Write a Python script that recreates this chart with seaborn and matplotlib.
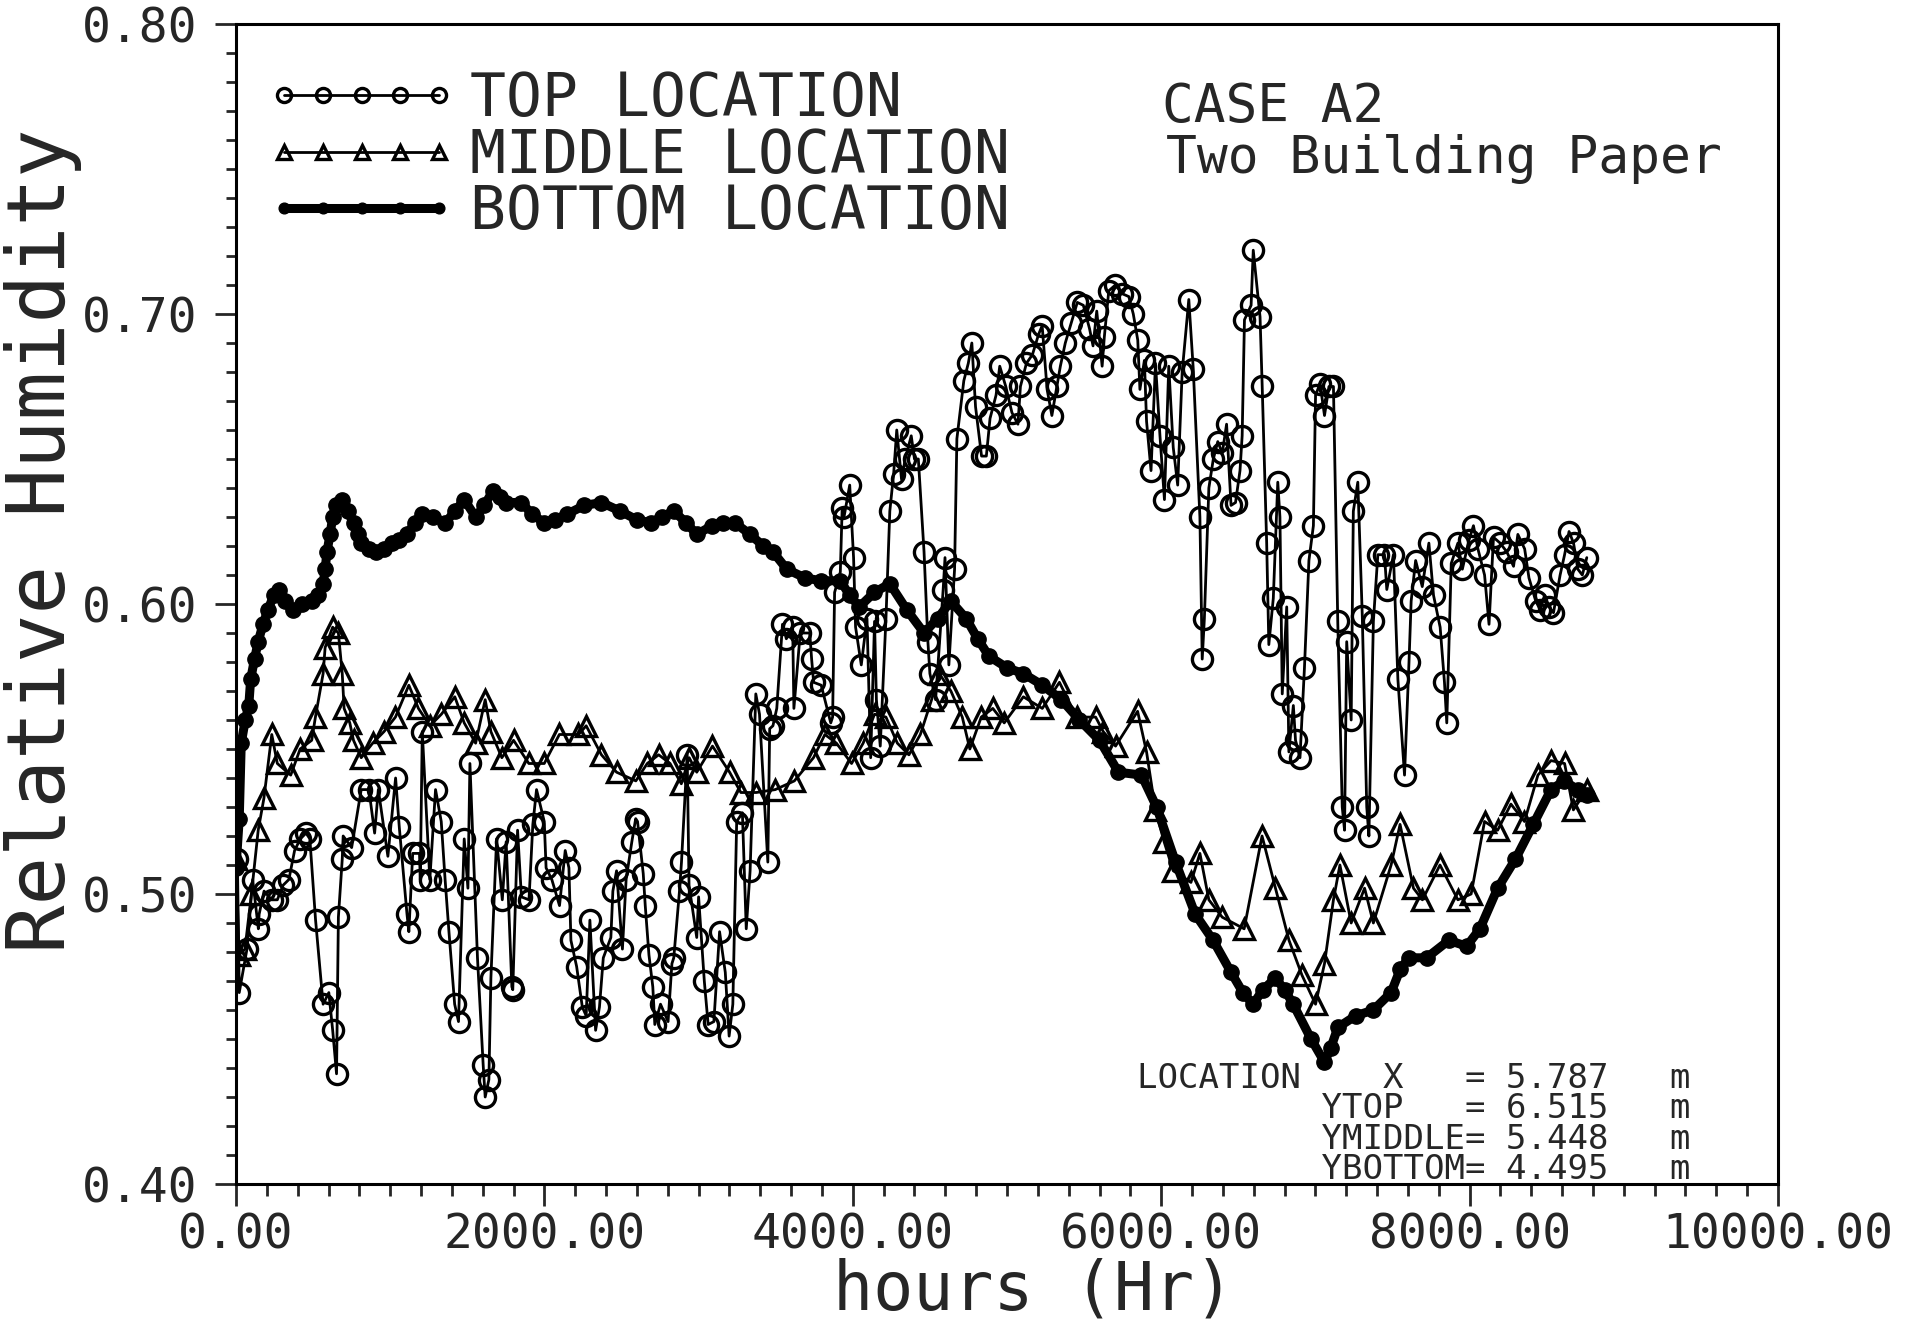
import numpy as np
import pandas as pd
import matplotlib
matplotlib.use("Agg")
import matplotlib.pyplot as plt
from matplotlib.ticker import MultipleLocator, StrMethodFormatter
import seaborn as sns

# ---------------- data ----------------
top_hours = [9, 21, 71, 108, 145, 150, 182, 231, 268, 305, 343, 380, 417, 454, 479, 516, 565, 602, 627, 652,
             664, 689, 695, 750, 812, 862, 899, 923, 985, 1035, 1059, 1109, 1121, 1146, 1190, 1195, 1208, 1257,
             1294, 1331, 1356, 1381, 1418, 1443, 1480, 1504, 1517, 1566, 1603, 1616, 1640, 1653, 1690, 1727,
             1752, 1789, 1795, 1826, 1851, 1900, 1925, 1949, 1999, 2011, 2048, 2098, 2135, 2159, 2172, 2209,
             2246, 2271, 2295, 2332, 2357, 2382, 2431, 2444, 2468, 2506, 2530, 2567, 2592, 2604, 2641, 2654,
             2678, 2703, 2716, 2753, 2802, 2827, 2839, 2876, 2889, 2926, 2938, 2988, 3000, 3037, 3062, 3099,
             3136, 3173, 3198, 3222, 3247, 3284, 3309, 3334, 3371, 3395, 3449, 3461, 3482, 3507, 3544, 3569,
             3610, 3618, 3659, 3721, 3733, 3746, 3795, 3857, 3869, 3882, 3919, 3931, 3943, 3980, 4005, 4018,
             4055, 4092, 4116, 4141, 4153, 4178, 4215, 4240, 4265, 4285, 4316, 4340, 4379, 4400, 4425, 4462,
             4487, 4500, 4537, 4586, 4598, 4623, 4660, 4675, 4720, 4749, 4772, 4796, 4835, 4866, 4890, 4929,
             4953, 4992, 5032, 5071, 5087, 5126, 5165, 5205, 5228, 5260, 5291, 5323, 5346, 5378, 5417, 5456,
             5495, 5535, 5558, 5582, 5617, 5631, 5660, 5703, 5747, 5790, 5819, 5848, 5862, 5891, 5905, 5934,
             5963, 5992, 6021, 6049, 6078, 6107, 6136, 6179, 6208, 6251, 6266, 6280, 6309, 6338, 6367, 6396,
             6424, 6453, 6482, 6511, 6525, 6540, 6583, 6597, 6641, 6655, 6684, 6698, 6727, 6756, 6770, 6785,
             6814, 6828, 6857, 6871, 6900, 6929, 6958, 6987, 7001, 7030, 7059, 7088, 7117, 7145, 7174, 7189,
             7203, 7232, 7246, 7275, 7304, 7333, 7347, 7376, 7405, 7448, 7463, 7506, 7535, 7578, 7607, 7621,
             7650, 7693, 7736, 7766, 7809, 7837, 7852, 7881, 7924, 7953, 7996, 8025, 8054, 8097, 8126, 8155,
             8198, 8241, 8285, 8313, 8357, 8385, 8429, 8458, 8486, 8515, 8544, 8587, 8616, 8645, 8674, 8702,
             8731, 8760]
top_rh = [0.512, 0.466, 0.481, 0.505, 0.488, 0.493, 0.501, 0.498, 0.498, 0.503, 0.505, 0.515, 0.519, 0.521,
          0.519, 0.491, 0.462, 0.466, 0.453, 0.438, 0.492, 0.512, 0.520, 0.516, 0.536, 0.536, 0.521, 0.536,
          0.513, 0.540, 0.523, 0.493, 0.487, 0.514, 0.514, 0.505, 0.556, 0.505, 0.536, 0.525, 0.505, 0.487,
          0.462, 0.456, 0.519, 0.502, 0.545, 0.478, 0.441, 0.430, 0.436, 0.471, 0.519, 0.498, 0.518, 0.468,
          0.467, 0.522, 0.499, 0.498, 0.524, 0.536, 0.525, 0.509, 0.505, 0.496, 0.515, 0.509, 0.484, 0.475,
          0.461, 0.458, 0.491, 0.453, 0.461, 0.478, 0.485, 0.501, 0.508, 0.481, 0.505, 0.518, 0.526, 0.525,
          0.507, 0.496, 0.479, 0.468, 0.455, 0.462, 0.456, 0.476, 0.478, 0.501, 0.511, 0.548, 0.503, 0.485,
          0.499, 0.470, 0.455, 0.456, 0.487, 0.473, 0.451, 0.462, 0.525, 0.528, 0.488, 0.508, 0.569, 0.562,
          0.511, 0.557, 0.558, 0.564, 0.593, 0.588, 0.592, 0.564, 0.590, 0.590, 0.581, 0.573, 0.572, 0.559,
          0.561, 0.604, 0.611, 0.633, 0.630, 0.641, 0.616, 0.592, 0.579, 0.595, 0.547, 0.594, 0.567, 0.551,
          0.595, 0.632, 0.645, 0.660, 0.643, 0.650, 0.658, 0.650, 0.650, 0.618, 0.587, 0.576, 0.567, 0.605,
          0.616, 0.579, 0.612, 0.657, 0.677, 0.683, 0.690, 0.668, 0.651, 0.651, 0.664, 0.672, 0.682, 0.675,
          0.666, 0.662, 0.675, 0.683, 0.686, 0.693, 0.696, 0.674, 0.665, 0.675, 0.682, 0.690, 0.697, 0.704,
          0.703, 0.695, 0.689, 0.701, 0.682, 0.692, 0.708, 0.710, 0.707, 0.706, 0.700, 0.691, 0.674, 0.684,
          0.663, 0.646, 0.683, 0.658, 0.636, 0.682, 0.654, 0.641, 0.680, 0.705, 0.681, 0.630, 0.581, 0.595,
          0.640, 0.650, 0.656, 0.652, 0.662, 0.634, 0.635, 0.646, 0.658, 0.698, 0.703, 0.722, 0.699, 0.675,
          0.621, 0.586, 0.602, 0.642, 0.630, 0.569, 0.599, 0.549, 0.565, 0.553, 0.547, 0.578, 0.615, 0.627,
          0.672, 0.676, 0.665, 0.675, 0.675, 0.594, 0.530, 0.522, 0.587, 0.560, 0.632, 0.642, 0.596, 0.530,
          0.520, 0.594, 0.617, 0.617, 0.605, 0.617, 0.574, 0.541, 0.580, 0.601, 0.615, 0.606, 0.621, 0.603,
          0.592, 0.573, 0.559, 0.614, 0.621, 0.612, 0.622, 0.627, 0.619, 0.610, 0.593, 0.623, 0.621, 0.618,
          0.613, 0.624, 0.619, 0.609, 0.601, 0.598, 0.603, 0.599, 0.597, 0.610, 0.617, 0.625, 0.621, 0.612,
          0.610, 0.616]

mid_hours = [0, 20, 58, 100, 144, 181, 232, 268, 355, 416, 491, 515, 565, 578, 627, 664, 689, 701, 738, 762,
             812, 886, 960, 1034, 1121, 1183, 1258, 1332, 1419, 1480, 1554, 1616, 1653, 1724, 1800, 1899, 1999,
             2097, 2221, 2271, 2370, 2468, 2593, 2667, 2741, 2815, 2888, 2939, 2988, 3090, 3201, 3274, 3374,
             3497, 3621, 3745, 3819, 3894, 3992, 4067, 4141, 4215, 4289, 4364, 4438, 4511, 4561, 4636, 4710,
             4759, 4833, 4908, 4982, 5106, 5229, 5340, 5452, 5575, 5624, 5704, 5847, 5905, 5962, 6019, 6078,
             6193, 6251, 6309, 6396, 6538, 6654, 6741, 6829, 6913, 7001, 7059, 7117, 7159, 7232, 7319, 7376,
             7491, 7549, 7636, 7694, 7808, 7924, 8010, 8097, 8182, 8268, 8356, 8443, 8528, 8616, 8673, 8760]
mid_rh = [0.512, 0.479, 0.481, 0.500, 0.522, 0.533, 0.555, 0.545, 0.541, 0.550, 0.553, 0.561, 0.576, 0.585,
          0.592, 0.590, 0.576, 0.564, 0.559, 0.553, 0.547, 0.552, 0.556, 0.561, 0.572, 0.564, 0.558, 0.562,
          0.568, 0.559, 0.552, 0.567, 0.556, 0.547, 0.553, 0.545, 0.545, 0.555, 0.555, 0.558, 0.548, 0.542,
          0.539, 0.545, 0.548, 0.545, 0.538, 0.547, 0.542, 0.551, 0.542, 0.535, 0.535, 0.536, 0.539, 0.547,
          0.555, 0.552, 0.545, 0.552, 0.562, 0.561, 0.552, 0.548, 0.555, 0.567, 0.576, 0.570, 0.561, 0.550,
          0.561, 0.564, 0.559, 0.568, 0.564, 0.573, 0.561, 0.561, 0.556, 0.551, 0.563, 0.549, 0.529, 0.518,
          0.508, 0.504, 0.514, 0.498, 0.492, 0.488, 0.520, 0.502, 0.484, 0.472, 0.462, 0.476, 0.498, 0.510,
          0.490, 0.502, 0.490, 0.510, 0.524, 0.502, 0.498, 0.510, 0.498, 0.500, 0.525, 0.522, 0.531, 0.525,
          0.541, 0.546, 0.545, 0.529, 0.536]

bot_hours = [0, 21, 34, 60, 83, 95, 120, 144, 175, 207, 245, 281, 320, 367, 430, 491, 530, 565, 578, 590,
             610, 627, 650, 689, 725, 762, 790, 812, 860, 911, 960, 1010, 1060, 1109, 1160, 1208, 1280, 1357,
             1420, 1480, 1554, 1610, 1666, 1710, 1752, 1851, 1920, 1999, 2070, 2147, 2260, 2370, 2493, 2600,
             2691, 2760, 2839, 2920, 2988, 3087, 3160, 3235, 3334, 3420, 3482, 3572, 3690, 3795, 3919, 3980,
             4042, 4140, 4240, 4350, 4462, 4550, 4636, 4735, 4810, 4883, 5000, 5106, 5230, 5353, 5470, 5600,
             5723, 5872, 5970, 6093, 6221, 6337, 6453, 6530, 6596, 6660, 6741, 6800, 6856, 6972, 7059, 7100,
             7146, 7261, 7376, 7491, 7550, 7606, 7721, 7865, 7981, 8067, 8182, 8297, 8413, 8528, 8614, 8701,
             8760]
bot_rh = [0.509, 0.526, 0.552, 0.560, 0.565, 0.574, 0.581, 0.587, 0.593, 0.598, 0.603, 0.605, 0.601, 0.598,
          0.600, 0.601, 0.603, 0.607, 0.612, 0.618, 0.624, 0.630, 0.634, 0.636, 0.632, 0.628, 0.624, 0.621,
          0.619, 0.618, 0.619, 0.621, 0.622, 0.624, 0.628, 0.631, 0.630, 0.628, 0.632, 0.636, 0.630, 0.634,
          0.639, 0.637, 0.635, 0.635, 0.631, 0.628, 0.629, 0.631, 0.634, 0.635, 0.632, 0.629, 0.628, 0.630,
          0.632, 0.628, 0.624, 0.627, 0.628, 0.628, 0.624, 0.620, 0.618, 0.612, 0.609, 0.608, 0.608, 0.603,
          0.599, 0.604, 0.607, 0.598, 0.590, 0.595, 0.601, 0.595, 0.588, 0.582, 0.578, 0.576, 0.572, 0.567,
          0.560, 0.553, 0.542, 0.541, 0.530, 0.511, 0.493, 0.484, 0.473, 0.466, 0.462, 0.467, 0.471, 0.467,
          0.462, 0.450, 0.442, 0.447, 0.454, 0.458, 0.460, 0.466, 0.474, 0.478, 0.478, 0.484, 0.482, 0.488,
          0.502, 0.512, 0.524, 0.536, 0.539, 0.536, 0.534]

series_labels = ["TOP LOCATION", "MIDDLE LOCATION", "BOTTOM LOCATION"]
x_ticks = [0, 2000, 4000, 6000, 8000, 10000]
y_ticks = [0.40, 0.50, 0.60, 0.70, 0.80]
case_title = "CASE A2"
case_subtitle = "Two Building Paper"
loc_lines = ["LOCATION    X   = 5.787   m",
             "         YTOP   = 6.515   m",
             "         YMIDDLE= 5.448   m",
             "         YBOTTOM= 4.495   m"]

# ---------------- figure ----------------
W, H = 1908, 1323
sns.set_style("ticks")
plt.rcParams['font.family'] = ['DejaVu Sans Mono', 'DejaVu Sans']

fig = plt.figure(figsize=(W / 100, H / 100), dpi=100)
L, R, T, B = 236, 1778, 24, 1184
ax = fig.add_axes([L / W, 1 - B / H, (R - L) / W, (B - T) / H])

top_df = pd.DataFrame({"hours": top_hours, "rh": top_rh})
mid_df = pd.DataFrame({"hours": mid_hours, "rh": mid_rh})
bot_df = pd.DataFrame({"hours": bot_hours, "rh": bot_rh})

sns.lineplot(data=top_df, x="hours", y="rh", ax=ax, estimator=None, sort=False,
             color="black", lw=2.0, marker="o", markersize=14.5, markerfacecolor="none",
             markeredgecolor="black", markeredgewidth=2.4, label=series_labels[0], legend=False)
sns.lineplot(data=mid_df, x="hours", y="rh", ax=ax, estimator=None, sort=False,
             color="black", lw=2.0, marker="^", markersize=14, markerfacecolor="none",
             markeredgecolor="black", markeredgewidth=2.4, label=series_labels[1], legend=False)
sns.lineplot(data=bot_df, x="hours", y="rh", ax=ax, estimator=None, sort=False,
             color="black", lw=6.5, marker="o", markersize=11, markerfacecolor="black",
             markeredgecolor="black", markeredgewidth=1, label=series_labels[2], legend=False)

ax.set_xlim(0, 10000)
ax.set_ylim(0.40, 0.80)
ax.set_xticks(x_ticks)
ax.set_yticks(y_ticks)
ax.xaxis.set_major_formatter(StrMethodFormatter("{x:.2f}"))
ax.yaxis.set_major_formatter(StrMethodFormatter("{x:.2f}"))
ax.xaxis.set_minor_locator(MultipleLocator(200))
ax.yaxis.set_minor_locator(MultipleLocator(0.01))
ax.tick_params(axis="x", which="major", direction="out", length=16, width=2, pad=4, labelsize=34.5)
ax.tick_params(axis="x", which="minor", direction="out", length=8.5, width=2)
ax.tick_params(axis="y", which="major", direction="out", length=15, width=2, pad=13, labelsize=34.5)
ax.tick_params(axis="y", which="minor", direction="out", length=7.5, width=2)
ax.tick_params(top=False, right=False)
for s in ax.spines.values():
    s.set_linewidth(2.2)
    s.set_color("black")

ax.set_xlabel("hours (Hr)", fontsize=48)
ax.set_ylabel("Relative Humidity", fontsize=58)
ax.xaxis.label.set_va("center")
ax.yaxis.label.set_va("center")
ax.xaxis.set_label_coords((1034 - L) / (R - L), (B - 1291) / (B - T))
ax.yaxis.set_label_coords((43 - L) / (R - L), (B - 541) / (B - T))

leg = ax.legend(loc="upper left", bbox_to_anchor=(266 / W, 1 - 70 / H),
                bbox_transform=fig.transFigure, frameon=False, numpoints=5,
                handlelength=3.2, handletextpad=0.22, labelspacing=-0.04,
                borderpad=0, borderaxespad=0, markerscale=0.7,
                prop={"family": "DejaVu Sans Mono", "size": 43})

fig.text(1162 / W, 1 - 122 / H, case_title, fontsize=38, va="baseline", ha="left")
fig.text(1166 / W, 1 - 173 / H, case_subtitle, fontsize=37, va="baseline", ha="left")

line_y = [1088, 1118, 1149, 1179]
for txt, yy in zip(loc_lines, line_y):
    fig.text(1137 / W, 1 - yy / H, txt, fontsize=24.5, va="baseline", ha="left")

fig.savefig("out.png", dpi=100, facecolor="white")
